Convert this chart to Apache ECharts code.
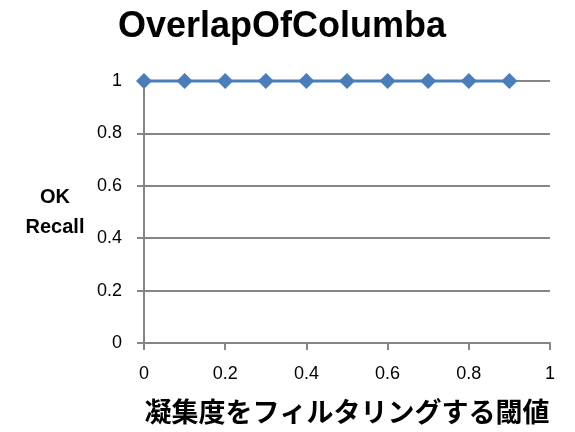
<!DOCTYPE html>
<html>
<head>
<meta charset="utf-8">
<script src="https://cdn.jsdelivr.net/npm/echarts@6/dist/echarts.min.js"></script>
<style>
  html, body { margin: 0; padding: 0; background: #fff; }
  #chart { width: 575px; height: 432px; }
</style>
</head>
<body>
<div id="chart"></div>
<script>
// Threshold values (x) and OK recall (y)
const thresholds = [0, 0.1, 0.2, 0.3, 0.4, 0.5, 0.6, 0.7, 0.8, 0.9];
const okRecall = [1, 1, 1, 1, 1, 1, 1, 1, 1, 1];
const yTicks = [0, 0.2, 0.4, 0.6, 0.8, 1];

const chart = echarts.init(document.getElementById('chart'));
const axisGray = '#868686';
const font = '"Liberation Sans", "Noto Sans", sans-serif';
const cjk = '"Noto Sans CJK JP", sans-serif';
const fmt = v => String(Math.round(v * 10) / 10);

chart.setOption({
  animation: false,
  title: {
    text: 'OverlapOfColumba',
    left: 277, top: 4,
    textAlign: 'center',
    textStyle: { fontFamily: font, fontWeight: 'bold', fontSize: 36, color: '#000' }
  },
  grid: { left: 144, right: 25, top: 81, bottom: 89, containLabel: false, outerBoundsMode: 'none' },
  xAxis: {
    type: 'value', min: 0, max: 1, interval: 0.2,
    name: '凝集度をフィルタリングする閾値',
    nameLocation: 'middle', nameGap: 55,
    nameTextStyle: { fontFamily: cjk, fontWeight: 'bold', fontSize: 27, color: '#000', verticalAlign: 'top' },
    axisLine: { lineStyle: { color: axisGray, width: 2 } },
    axisTick: { show: true, length: 7, lineStyle: { color: axisGray, width: 2 } },
    axisLabel: { fontFamily: font, fontSize: 18, color: '#000', margin: 22, formatter: fmt },
    splitLine: { show: false }
  },
  yAxis: {
    type: 'value', min: 0, max: 1, interval: 0.2,
    name: 'OK\nRecall',
    nameLocation: 'middle', nameGap: 89, nameRotate: 0,
    nameTextStyle: { fontFamily: font, fontWeight: 'bold', fontSize: 20, color: '#000', lineHeight: 30, align: 'center', padding: [8, 0, 0, 0] },
    axisLine: { show: true, lineStyle: { color: axisGray, width: 2 } },
    axisTick: { show: true, length: 7, lineStyle: { color: axisGray, width: 2 } },
    axisLabel: { fontFamily: font, fontSize: 18, color: '#000', margin: 22,
      formatter: v => yTicks.includes(Math.round(v * 10) / 10) ? fmt(v) : '' },
    splitLine: { show: true, lineStyle: { color: axisGray, width: 2 } }
  },
  series: [{
    type: 'line',
    data: thresholds.map((x, i) => [x, okRecall[i]]),
    symbol: 'diamond', symbolSize: 16,
    lineStyle: { color: '#4a7ebb', width: 3 },
    itemStyle: { color: '#4a7ebb' },
    clip: false
  }]
});
</script>
</body>
</html>
